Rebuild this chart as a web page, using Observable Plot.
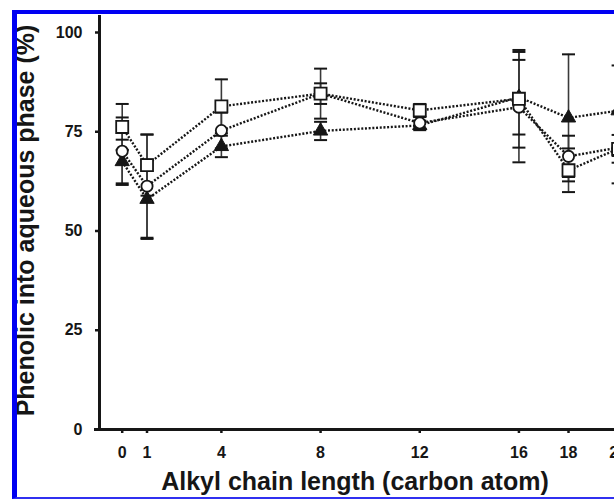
<!DOCTYPE html>
<html><head><meta charset="utf-8">
<script src="https://cdn.jsdelivr.net/npm/d3@7"></script>
<script src="https://cdn.jsdelivr.net/npm/@observablehq/plot@0.6"></script>
<style>
html,body{margin:0;padding:0;background:#fff;overflow:hidden;}
#wrap{position:relative;width:614px;height:499px;overflow:hidden;}
#frame{position:absolute;left:12px;top:10px;width:700px;height:483px;border-left:5px solid #0000f2;border-top:4px solid #0000f2;border-bottom:2px solid #3030f0;pointer-events:none;}
</style></head><body>
<div id="wrap"><div id="chart"></div><div id="frame"></div></div>
<script>
// ---- data ----
const chainLength = [0, 1, 4, 8, 12, 16, 18, 20];
const xTicks = [0, 1, 4, 8, 12, 16, 18, 20];
const yTicks = [0, 25, 50, 75, 100];
const xTitle = "Alkyl chain length (carbon atom)";
const yTitle = "Phenolic into aqueous phase (%)";

const squareMean   = [76.2, 66.6, 81.4, 84.6, 80.4, 83.3, 65.3, 70.7];
const squareErr    = [5.8,  7.7,  6.8,  6.3,  1.6,  12.3, 5.5,  3.5];
const circleMean   = [70.1, 61.3, 75.3, 84.6, 77.2, 81.2, 68.8, 71.0];
const circleErr    = [8.5,  13.0, 4.5,  2.6,  1.5,  13.9, 5.2,  9.0];
const triangleMean = [67.5, 58.0, 71.3, 75.2, 76.6, 83.7, 78.5, 80.3];
const triangleErr  = [5.5,  10.0, 2.7,  2.3,  1.2,  9.4,  16.0, 11.4];

// ---- build table ----
function build(name, means, errs) {
  return chainLength.map((c, i) => ({series: name, c, m: means[i], lo: means[i] - errs[i], hi: means[i] + errs[i]}));
}
const squares = build("square", squareMean, squareErr);
const circles = build("circle", circleMean, circleErr);
const triangles = build("triangle", triangleMean, triangleErr);
const rows = [...triangles, ...circles, ...squares];

const xDomain = [-0.916, 20.5];
const ink = "#161616";

const capSymbol = {
  draw(ctx, size) {
    const w = Math.sqrt(size / Math.PI);
    ctx.moveTo(-w, 0);
    ctx.lineTo(w, 0);
  }
};

const chart = Plot.plot({
  width: 614,
  height: 499,
  marginLeft: 99,
  marginRight: 0,
  marginTop: 15,
  marginBottom: 70,
  style: {background: "transparent", overflow: "hidden", fontFamily: "'Liberation Sans', Arial, sans-serif", fontWeight: "bold", color: ink},
  x: {domain: xDomain, range: [99, 630]},
  y: {domain: [0, 100], range: [429, 32]},
  marks: [
    // axes lines and ticks
    Plot.ruleY([0], {insetLeft: -5, insetRight: -10, stroke: ink, strokeWidth: 3}),
    Plot.ruleX([xDomain[0]], {y1: 100, y2: 0, insetTop: -17, insetBottom: -2, stroke: ink, strokeWidth: 3}),
    Plot.axisX({ticks: xTicks, tickSize: 4, tickFormat: () => "", stroke: ink, strokeWidth: 2.5, label: null}),
    Plot.axisY({ticks: yTicks, tickSize: 4, tickFormat: () => "", stroke: ink, strokeWidth: 2.5, label: null}),
    // tick labels
    Plot.text(xTicks, {x: (d) => d, frameAnchor: "bottom", textAnchor: "middle", dy: 28, fontSize: 16, fontWeight: "bold", fill: ink}),
    Plot.text(yTicks, {y: (d) => d, frameAnchor: "left", textAnchor: "end", dx: -17, fontSize: 16, fontWeight: "bold", fill: ink}),
    // error bars
    Plot.ruleX(rows, {x: "c", y1: "lo", y2: "hi", stroke: "#3a3a3a", strokeWidth: 1.6}),
    Plot.dot(rows, {x: "c", y: "lo", symbol: capSymbol, r: 6.5, fill: "none", stroke: ink, strokeWidth: 2}),
    Plot.dot(rows, {x: "c", y: "hi", symbol: capSymbol, r: 6.5, fill: "none", stroke: ink, strokeWidth: 2}),
    // dotted lines
    Plot.line(rows, {x: "c", y: "m", z: "series", stroke: ink, strokeWidth: 2.4, strokeDasharray: "2,1.7", strokeLinecap: "butt"}),
    // markers
    Plot.dot(triangles, {x: "c", y: "m", symbol: "triangle", r: 5.3, fill: ink, stroke: ink, strokeWidth: 1}),
    Plot.dot(circles, {x: "c", y: "m", symbol: "circle", r: 5.6, fill: "white", stroke: ink, strokeWidth: 1.8}),
    Plot.dot(squares, {x: "c", y: "m", symbol: "square", r: 6.8, fill: "white", stroke: ink, strokeWidth: 1.8}),
    // axis titles
    Plot.text([yTitle], {frameAnchor: "left", textAnchor: "middle", rotate: -90, dx: -74, dy: -2, fontSize: 25, fontWeight: "bold", fill: ink}),
    Plot.text([xTitle], {frameAnchor: "bottom", textAnchor: "middle", dx: -2, dy: 60, fontSize: 25, fontWeight: "bold", fill: ink})
  ]
});
document.getElementById("chart").appendChild(chart);
</script>
</body></html>
